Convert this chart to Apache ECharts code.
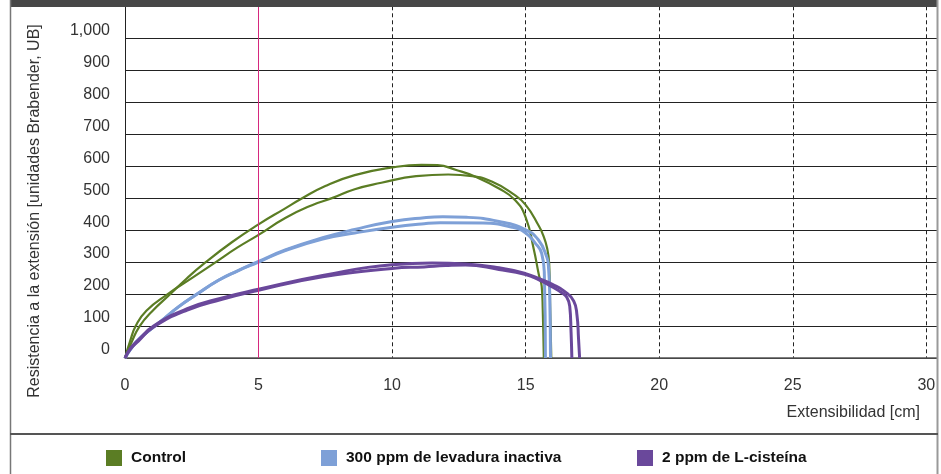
<!DOCTYPE html>
<html>
<head>
<meta charset="utf-8">
<style>
    html, body { margin: 0; padding: 0; background: #fff; }
    #chart { width: 941px; height: 474px; }
</style>
<script src="https://cdn.jsdelivr.net/npm/echarts@6/dist/echarts.min.js"></script>
</head>
<body>
<div id="chart"></div>
<script>
    const controlA = [[0, 0], [0.25, 50], [0.55, 100], [1.0, 145], [1.7, 200], [2.3, 248], [3.0, 298], [4.0, 362],
        [5.0, 418], [6.0, 468], [6.6, 498], [7.5, 538], [8.6, 572], [10, 596], [11.1, 604], [11.7, 603], [12.4, 588],
        [13.1, 568], [14.0, 530], [14.6, 494], [15.0, 440], [15.3, 342], [15.5, 258], [15.6, 225], [15.64, 150], [15.68, 0]];
    const controlB = [[0, 0], [0.2, 55], [0.4, 100], [0.8, 148], [1.6, 200], [2.5, 250], [3.4, 300], [4.2, 345],
        [5, 385], [6, 438], [7, 478], [7.75, 500], [8.6, 528], [9.6, 548], [10.9, 569], [12.1, 574], [13.0, 569],
        [13.75, 551], [14.5, 515], [15.0, 479], [15.5, 412], [15.65, 385], [15.8, 345], [15.88, 296], [15.92, 150], [15.96, 0]];
    const levaduraA = [[0, 0], [0.3, 38], [0.6, 65], [1.3, 112], [2.0, 160], [2.7, 200], [3.5, 243], [4.2, 272],
        [5, 302], [6, 338], [7.4, 376], [8.6, 402], [10, 427], [11.2, 439], [11.9, 442], [12.8, 440], [14, 427],
        [15, 401], [15.48, 369], [15.79, 316], [15.85, 290], [15.9, 200], [15.93, 0]];
    const levaduraB = [[0, 0], [0.3, 38], [0.6, 65], [1.3, 112], [2.0, 160], [2.7, 200], [3.5, 243], [4.2, 272],
        [5, 300], [6, 336], [7.4, 372], [8.6, 391], [10, 409], [11.2, 420], [11.8, 423], [13.4, 422], [14.5, 409],
        [15, 391], [15.35, 360], [15.6, 327], [15.7, 260], [15.74, 0]];
    const cisteinaA = [[0, 0], [0.2, 30], [0.5, 56], [1.07, 100], [2.33, 154], [3.6, 187], [5, 215], [7.4, 258],
        [10, 292], [11.5, 297], [12.75, 294], [14, 282], [15, 264], [15.5, 248], [16, 230], [16.48, 207], [16.8, 178],
        [16.92, 135], [16.98, 60], [17.02, 0]];
    const cisteinaB = [[0, 0], [0.2, 28], [0.5, 53], [1.07, 97], [2.33, 150], [3.6, 183], [5, 212], [7.4, 254],
        [10, 280], [11.2, 285], [12, 289], [12.75, 291], [14, 277], [15, 261], [15.5, 244], [16, 222], [16.35, 204],
        [16.54, 190], [16.65, 162], [16.7, 80], [16.73, 0]];

    const names = ['Control', '300 ppm de levadura inactiva', '2 ppm de L-cisteína'];
    const colors = ['#5b7d24', '#7ea0d7', '#6a489b'];
    const legendLeft = [106, 321, 637];

    const font = '"Liberation Sans", Arial, Helvetica, sans-serif';

    const chart = echarts.init(document.getElementById('chart'));

    function curve(name, data, color, width) {
        return {
            name: name,
            type: 'line',
            data: data,
            smooth: 0.5,
            showSymbol: false,
            symbol: 'none',
            color: color,
            lineStyle: {color: color, width: width},
            animation: false
        };
    }

    const series = [
        curve(names[0], controlA, colors[0], 2.2),
        curve(names[0], controlB, colors[0], 2.2),
        curve(names[1], levaduraA, colors[1], 3),
        curve(names[1], levaduraB, colors[1], 3),
        curve(names[2], cisteinaA, colors[2], 3),
        curve(names[2], cisteinaB, colors[2], 3)
    ];
    // solid pink reference line at 5 cm
    series[0].markLine = {
        silent: true,
        symbol: 'none',
        label: {show: false},
        lineStyle: {color: '#d6287e', width: 1, type: 'solid'},
        data: [{xAxis: 5}],
        animation: false
    };

    chart.setOption({
        backgroundColor: '#fff',
        textStyle: {fontFamily: font},
        grid: {left: 125, right: 4, top: 6.3, bottom: 116},
        legend: names.map((n, i) => ({
            data: [n],
            left: legendLeft[i],
            top: 450,
            padding: 0,
            icon: 'rect',
            itemWidth: 16,
            itemHeight: 16,
            selectedMode: false,
            textStyle: {fontSize: 15.5, fontWeight: 'bold', color: '#111', fontFamily: font, padding: [0, 0, 0, 4]},
            itemStyle: {color: colors[i]}
        })),
        xAxis: {
            type: 'value',
            min: 0,
            max: 30.4,
            interval: 5,
            axisLine: {show: true, lineStyle: {color: '#555', width: 1.5}},
            axisTick: {show: false},
            axisLabel: {color: '#333', fontSize: 16, margin: 20, showMaxLabel: false},
            splitLine: {
                show: true,
                showMinLine: false,
                showMaxLine: false,
                lineStyle: {color: '#222', width: 1, type: [4, 3]}
            }
        },
        yAxis: {
            type: 'value',
            min: 0,
            max: 1100,
            interval: 100,
            axisLine: {show: true, lineStyle: {color: '#222', width: 1}},
            axisTick: {show: false},
            axisLabel: {
                color: '#333',
                fontSize: 16,
                margin: 15,
                verticalAlign: 'bottom',
                showMaxLabel: false,
                formatter: v => v.toLocaleString('en-US')
            },
            splitLine: {show: true, showMaxLine: false, lineStyle: {color: '#222', width: 1}}
        },
        graphic: [
            {type: 'rect', z: 100, shape: {x: 10, y: 0, width: 928, height: 7}, style: {fill: '#474747'}},
            {type: 'line', z: 100, shape: {x1: 10.5, y1: 0, x2: 10.5, y2: 474}, style: {stroke: '#777', lineWidth: 1.5}},
            {type: 'line', z: 100, shape: {x1: 937.5, y1: 0, x2: 937.5, y2: 474}, style: {stroke: '#999', lineWidth: 2}},
            {type: 'line', z: 100, shape: {x1: 10, y1: 434, x2: 938, y2: 434}, style: {stroke: '#555', lineWidth: 2}},
            {
                type: 'text', z: 100, x: 35, y: 211, rotation: Math.PI / 2,
                style: {
                    text: 'Resistencia a la extensión [unidades Brabender, UB]',
                    fill: '#333', font: '16px ' + font, align: 'center', verticalAlign: 'middle'
                }
            },
            {
                type: 'text', z: 100, x: 920, y: 413,
                style: {
                    text: 'Extensibilidad [cm]',
                    fill: '#333', font: '16px ' + font, align: 'right', verticalAlign: 'middle'
                }
            }
        ],
        series: series
    });
</script>
</body>
</html>
